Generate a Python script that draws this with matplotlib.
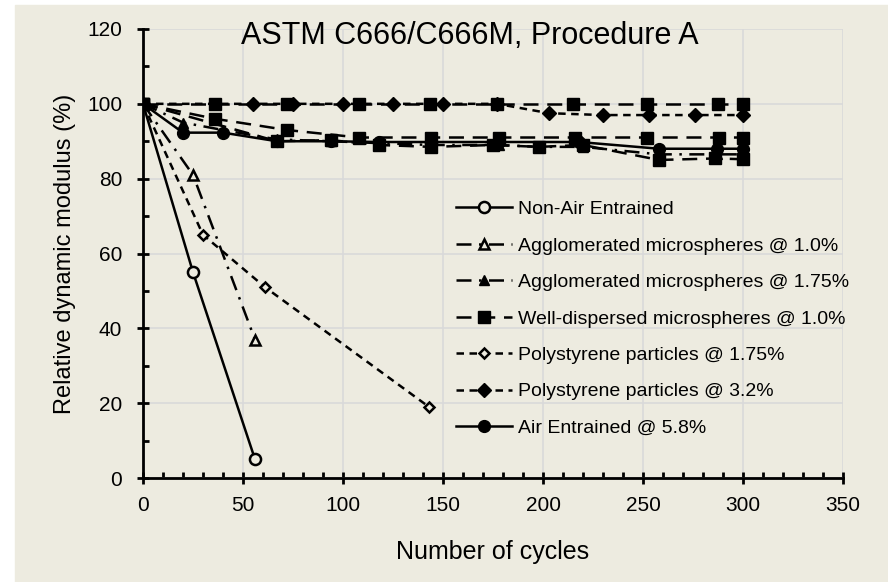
import matplotlib.pyplot as plt
from matplotlib.patches import Rectangle
from matplotlib.ticker import MultipleLocator

plt.rcParams['font.family'] = ['Liberation Sans', 'DejaVu Sans']

# dados
x_nae = [0, 25, 56]
y_nae = [100, 55, 5]

x_ag10 = [0, 25, 56]
y_ag10 = [100, 81, 37]

x_ag175 = [0, 20, 40, 67, 94, 118, 144, 178, 198, 220, 258, 287, 300]
y_ag175 = [100, 95, 93, 90.5, 90, 89.5, 89, 89, 88.5, 88.5, 86.5, 86.5, 86.5]

x_wd10 = [0, 36, 72, 108, 143.5, 177, 215, 252, 287.5, 300]
y_wd10 = [100, 100, 100, 100, 100, 100, 100, 100, 100, 100]

x_ps175 = [0, 30, 61, 143]
y_ps175 = [100, 65, 51, 19]

x_ps32 = [0, 55, 75, 100, 125, 150, 177, 203, 230, 253, 276, 300]
y_ps32 = [100, 100, 100, 100, 100, 100, 100, 97.5, 97, 97, 97, 97]

x_ae = [0, 20, 40, 67, 94, 118, 144, 178, 218, 258, 287, 300]
y_ae = [100, 92.3, 92.3, 90, 90, 89.8, 89.8, 89.8, 89.8, 88, 88, 88]

# series sem legenda (aparecem no grafico original)
x_sq_a = [0, 36, 72, 108, 144, 178, 216, 252, 288, 300]
y_sq_a = [100, 96, 93, 91, 91, 91, 91, 91, 91, 91]

x_sq_b = [0, 67, 94, 118, 144, 175, 198, 220, 258, 286, 300]
y_sq_b = [100, 90, 90.3, 89, 88.5, 89, 88.5, 89, 85, 85.4, 85.2]

bg = '#EDEBE0'
fig = plt.figure(figsize=(8.88, 5.82), dpi=100)
fig.patches.append(Rectangle((15 / 888, 0), 1 - 15 / 888, 1 - 5 / 582,
                             transform=fig.transFigure, color=bg, zorder=-10))
ax = fig.add_axes([143 / 888, 1 - 478 / 582, 700 / 888, 449 / 582])
ax.set_facecolor(bg)

lw = 1.8
ad = (6, 3, 1, 3)   # traco-ponto
ld = (6, 3.5)       # traco longo
sd = (3, 2.2)       # traco curto

ax.plot(x_sq_a, y_sq_a, color='black', lw=lw, dashes=ld, marker='s', ms=8.5, zorder=3)
ax.plot(x_sq_b, y_sq_b, color='black', lw=lw, dashes=ld, marker='s', ms=8.5, zorder=3)

ax.plot(x_nae, y_nae, color='black', lw=lw, ls='-', marker='o', ms=8,
        mfc=bg, mew=1.8, label='Non-Air Entrained', zorder=4)
ax.plot(x_ag10, y_ag10, color='black', lw=lw, dashes=ad, marker='^', ms=7.5,
        mfc=bg, mew=1.8, label='Agglomerated microspheres @ 1.0%', zorder=4)
ax.plot(x_ag175, y_ag175, color='black', lw=lw, dashes=ad, marker='^', ms=7,
        label='Agglomerated microspheres @ 1.75%', zorder=4)
ax.plot(x_wd10, y_wd10, color='black', lw=lw, dashes=ld, marker='s', ms=8.5,
        label='Well-dispersed microspheres @ 1.0%', zorder=4)
ax.plot(x_ps175, y_ps175, color='black', lw=lw, dashes=sd, marker='D', ms=5.5,
        mfc=bg, mew=1.8, label='Polystyrene particles @ 1.75%', zorder=4)
ax.plot(x_ps32, y_ps32, color='black', lw=lw, dashes=sd, marker='D', ms=7.5,
        label='Polystyrene particles @ 3.2%', zorder=4)
ax.plot(x_ae, y_ae, color='black', lw=lw, ls='-', marker='o', ms=8.5,
        label='Air Entrained @ 5.8%', zorder=4)

ax.set_xlim(0, 350)
ax.set_ylim(0, 120)
ax.xaxis.set_major_locator(MultipleLocator(50))
ax.xaxis.set_minor_locator(MultipleLocator(10))
ax.yaxis.set_major_locator(MultipleLocator(20))
ax.yaxis.set_minor_locator(MultipleLocator(10))

ax.grid(True, which='major', color='#D9D9D9', lw=1.2, zorder=0)
ax.set_axisbelow(True)
for s in ['top', 'right']:
    ax.spines[s].set_visible(False)
for s in ['left', 'bottom']:
    ax.spines[s].set_linewidth(2)
    ax.spines[s].set_zorder(5)

ax.tick_params(which='major', direction='inout', length=8, width=2, labelsize=15)
ax.tick_params(which='minor', direction='in', length=4, width=2)
ax.tick_params(axis='x', which='major', pad=9)
ax.tick_params(axis='y', which='major', pad=11)

ax.set_xlabel('Number of cycles', fontsize=18, labelpad=18)
ax.set_ylabel('Relative dynamic modulus (%)', fontsize=17, labelpad=8)

ax.text(0.467, 0.985, 'ASTM C666/C666M, Procedure A', transform=ax.transAxes,
        ha='center', va='center', fontsize=22)

leg = ax.legend(loc='upper left', bbox_to_anchor=(0.447, 0.618), frameon=False,
                fontsize=14, handlelength=2.9, handletextpad=0.3,
                labelspacing=0.97, borderaxespad=0, borderpad=0)

plt.savefig('out.png', dpi=100, facecolor='white')
